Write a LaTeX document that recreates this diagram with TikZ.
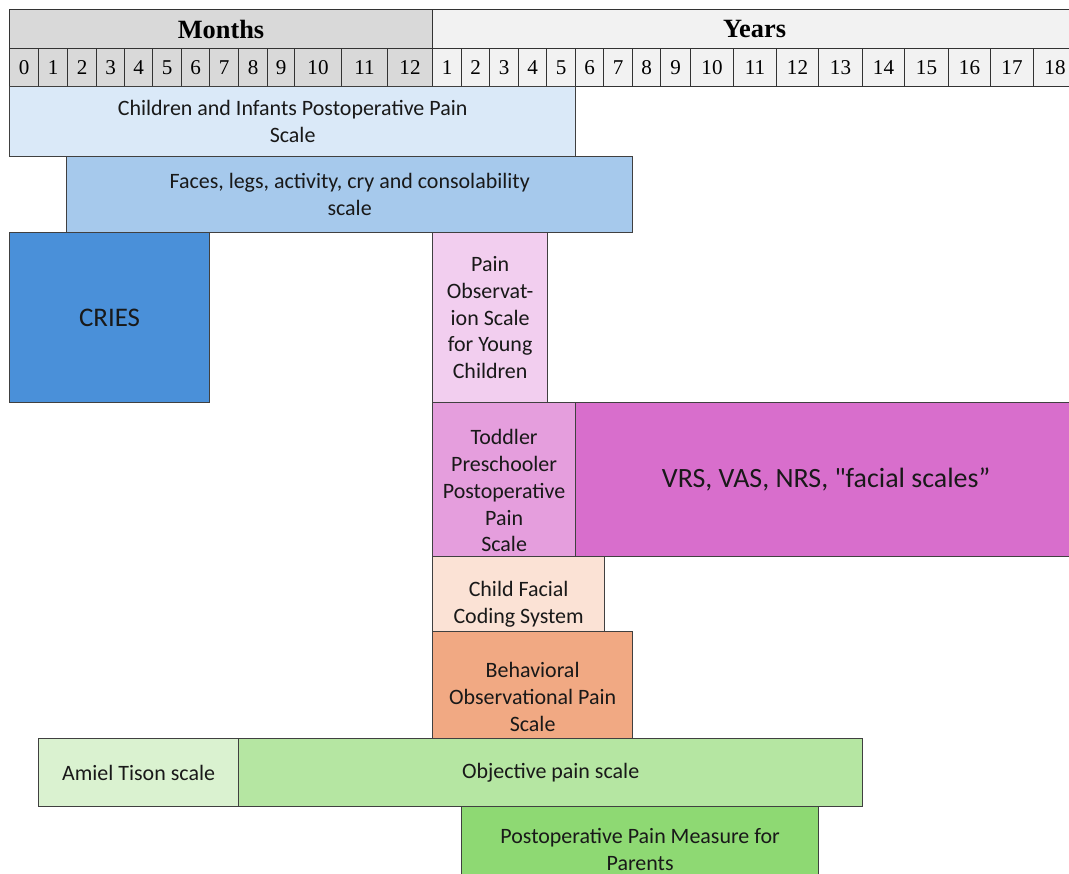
\documentclass[tikz,border=0pt]{standalone}
\usepackage{fontspec}
\setmainfont{Liberation Serif}
\newfontfamily\boxfont{Carlito}

\definecolor{monthsgray}{HTML}{D9D9D9}
\definecolor{yearsgray}{HTML}{F2F2F2}
\definecolor{cippsblue}{HTML}{DAE9F8}
\definecolor{flaccblue}{HTML}{A6C9EC}
\definecolor{criesblue}{HTML}{4A90D9}
\definecolor{posycpink}{HTML}{F2CEEF}
\definecolor{tpppspink}{HTML}{E59EDD}
\definecolor{vrspink}{HTML}{D86ECC}
\definecolor{cfcspeach}{HTML}{FBE2D5}
\definecolor{bopsorange}{HTML}{F1A983}
\definecolor{amielgreen}{HTML}{DAF2D0}
\definecolor{opsgreen}{HTML}{B5E6A2}
\definecolor{ppmpgreen}{HTML}{8ED973}

\begin{document}
\begin{tikzpicture}[x=0.02cm, y=-0.02cm,
    headcell/.style={draw=black!80, line width=0.6pt, inner sep=0pt, anchor=north west,
        font=\fontsize{12}{14}\selectfont},
    painbox/.style={draw=black!75, line width=0.7pt, inner sep=0pt, anchor=north west},
    painlabel/.style={inner sep=0pt, align=center, text=black!90,
        font=\boxfont\fontsize{12.5}{15.3}\selectfont}]

    \newcommand*{\unitpx}{0.02cm}%
    \newcommand*{\headtop}{9}%
    \newcommand*{\headmid}{48}%
    \newcommand*{\headbot}{86}%
    % [text drop]{name}{x1}{y1}{x2}{y2}{colour}{text}
    \newcommand*{\painbox}[8][0]{%
        \node [painbox, fill=#7, minimum width={(#5-#3)*\unitpx}, minimum height={(#6-#4)*\unitpx}]
            (#2) at (#3,#4) {};
        \node [painlabel, yshift={-(#1)*\unitpx}] (#2-text) at (#2.center) {#8};}%

    \useasboundingbox (0,0) rectangle (1069,874);

    % header ↓
    \node [headcell, fill=monthsgray, minimum width={(432-9)*\unitpx},
        minimum height={(\headmid-\headtop)*\unitpx}, font=\bfseries\fontsize{15}{18}\selectfont]
        (months) at (9,\headtop) {Months};
    \node [headcell, fill=yearsgray, minimum width={(1076-432)*\unitpx},
        minimum height={(\headmid-\headtop)*\unitpx}, font=\bfseries\fontsize{15}{18}\selectfont]
        (years) at (432,\headtop) {Years};

    % months ↓
    \foreach \b [remember=\b as \a (initially 9), count=\i from 0] in
        {38,67,96,124,152,181,209,238,267,294,341,387,432}
        \node [headcell, fill=monthsgray, minimum width={(\b-\a)*\unitpx},
            minimum height={(\headbot-\headmid)*\unitpx}] (m\i) at (\a,\headmid) {\i};

    % years ↓
    \foreach \b [remember=\b as \a (initially 432), count=\i from 1] in
        {461,489,518,546,575,603,632,660,690,733,776,818,862,904,948,990,1033,1076}
        \node [headcell, fill=yearsgray, minimum width={(\b-\a)*\unitpx},
            minimum height={(\headbot-\headmid)*\unitpx}] (y\i) at (\a,\headmid) {\i};

    % scales ↓
    \painbox{cipps}{9}{86}{575}{156}{cippsblue}{Children and Infants Postoperative Pain\\Scale}
    \painbox{flacc}{66}{156}{632}{232}{flaccblue}{Faces, legs, activity, cry and consolability\\scale}
    \painbox{cries}{9}{232}{209}{402}{criesblue}{\fontsize{15.3}{18}\selectfont CRIES}
    \painbox{posyc}{432}{232}{547}{402}{posycpink}{Pain\\Observat-\\ion Scale\\for Young\\Children}
    \painbox[11]{tppps}{432}{402}{575}{556}{tpppspink}{Toddler\\Preschooler\\Postoperative\\Pain\\Scale}
    \painbox{vrs}{575}{402}{1076}{556}{vrspink}{\fontsize{15.9}{18}\selectfont VRS, VAS, NRS, "facial scales”}
    \painbox[10]{cfcs}{432}{556}{604}{631}{cfcspeach}{Child Facial\\Coding System}
    \painbox[12]{bops}{432}{631}{632}{738}{bopsorange}{Behavioral\\Observational Pain\\Scale}
    \painbox{amiel}{38}{738}{238}{806}{amielgreen}{Amiel Tison scale}
    \painbox{ops}{238}{738}{862}{806}{opsgreen}{Objective pain scale}
    \painbox[5]{ppmp}{461}{806}{818}{882}{ppmpgreen}{Postoperative Pain Measure for\\Parents}

\end{tikzpicture}
\end{document}
